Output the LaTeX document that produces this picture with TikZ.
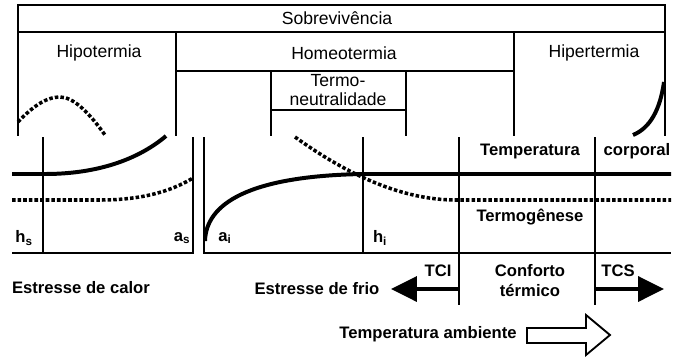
\documentclass[tikz,border=0pt]{standalone}
\usepackage{fontspec}
\setmainfont{Liberation Sans}
\usetikzlibrary{arrows.meta}

\begin{document}
\begin{tikzpicture}[
    x=0.03cm, y=-0.03cm,
    frame/.style={line width=1.4pt},
    curve/.style={line width=3.4pt},
    dotcurve/.style={line width=3pt, dash pattern=on 3pt off 1.8pt},
    toptext/.style={font=\fontsize{15}{15.5}\selectfont, inner sep=0pt, align=center},
    lowtext/.style={font=\fontsize{14.2}{17}\selectfont\bfseries, inner sep=0pt, align=center},
    subtext/.style={font=\fontsize{14.2}{17}\selectfont\bfseries, inner sep=0pt},
    bigarrow/.style={line width=3.6pt, -{Triangle[length=22pt, width=21pt]}}
]
\useasboundingbox (0,0) rectangle (678,356);

% ============= TOP: STATES =============
\draw[frame] (18,5) rectangle (665,32);
\node[toptext] (sobre) at (337,18) {Sobrevivência};

\draw[frame] (18,32) -- (18,136);
\draw[frame] (665,32) -- (665,136);
\node[toptext] (hipo) at (99,53) {Hipotermia};
\node[toptext] (hiper) at (594,53) {Hipertermia};

% Homeotermia
\draw[frame] (176,32) rectangle (514,71);
\draw[frame] (176,71) -- (176,136);
\draw[frame] (514,71) -- (514,136);
\node[toptext] (homeo) at (344,53) {Homeotermia};

% Termoneutralidade
\draw[frame] (271,71) rectangle (406,110);
\draw[frame] (271,110) -- (271,136);
\draw[frame] (406,110) -- (406,136);
\node[toptext] (neutro) at (338,90) {Termo-\\neutralidade};

% curves in the states
\draw[dotcurve] (18,122) .. controls (35,104) and (48,97) .. (60,97)
    .. controls (74,97) and (90,114) .. (105,135);
\draw[curve] (633,135) .. controls (650,128) and (660,110) .. (664,82);

% ============= BOTTOM: GRAPHS =============
% Heat stress panel
\draw[frame] (12,253) -- (193,253) -- (193,137);
\draw[frame] (43,137) -- (43,253);
\draw[curve] (12,174) -- (45,174) .. controls (100,174) and (140,158) .. (166,136);
\draw[dotcurve] (12,200) -- (100,200) .. controls (140,200) and (170,192) .. (193,178);
\node[subtext] (hs) at (24,238) {h\textsubscript{s}};
\node[subtext] (as) at (182,238) {a\textsubscript{s}};

% Cold stress panel
\draw[frame] (204,137) -- (204,253) -- (671,253);
\draw[frame] (363,137) -- (363,253);
\draw[frame] (459,137) -- (459,305);
\draw[frame] (595,137) -- (595,305);
\draw[curve] (205,241) .. controls (206,204) and (248,176) .. (363,174) -- (671,174);
\draw[dotcurve] (295,137) .. controls (330,162) and (390,200) .. (456,200) -- (671,200);
\node[subtext] (ai) at (225,238) {a\textsubscript{i}};
\node[subtext] (hi) at (380,238) {h\textsubscript{i}};

\node[lowtext] (tempcorp) at (530,151) {Temperatura};
\node[lowtext] (corporal) at (637,151) {corporal};
\node[lowtext] (termog) at (530,217) {Termogênese};

% ============= LIMITS =============
\node[lowtext] (tci) at (438,271) {TCI};
\node[lowtext] (tcs) at (618,271) {TCS};
\node[lowtext] (conforto) at (530,281) {Conforto\\térmico};
\node[lowtext] (calor) at (81,288) {Estresse de calor};
\node[lowtext] (frio) at (317,289) {Estresse de frio};

\coordinate (tcistart) at (459,289);
\coordinate (tciend) at (391,289);
\coordinate (tcsstart) at (595,289);
\coordinate (tcsend) at (664,289);
\draw[bigarrow] (tcistart) -- (tciend);
\draw[bigarrow] (tcsstart) -- (tcsend);

% Ambient temperature
\node[lowtext] (ambiente) at (428,334) {Temperatura ambiente};
\draw[line width=1.6pt, line join=miter] (527,328) -- (586,328) -- (586,315) -- (610,335)
    -- (586,355) -- (586,343) -- (527,343) -- cycle;

\end{tikzpicture}
\end{document}
